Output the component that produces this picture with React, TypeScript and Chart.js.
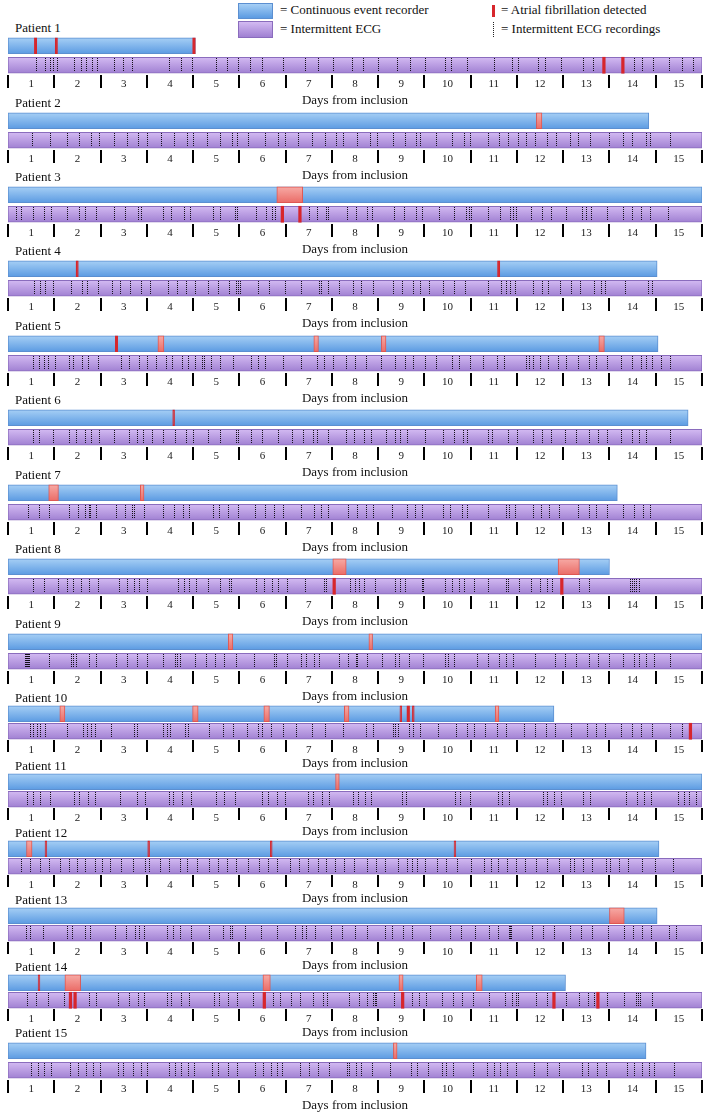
import { useEffect, useRef } from 'react';
import { Chart, registerables } from 'chart.js';

Chart.register(...registerables);

const SERIF = "'Liberation Serif', 'Times New Roman', Times, serif";

// ---------------- data ----------------
const dayLabels = ['1', '2', '3', '4', '5', '6', '7', '8', '9', '10', '11', '12', '13', '14', '15'];
const rowLabels = ['CER', 'ECG'];

const patientNames = [
  'Patient 1', 'Patient 2', 'Patient 3', 'Patient 4', 'Patient 5', 'Patient 6', 'Patient 7', 'Patient 8',
  'Patient 9', 'Patient 10', 'Patient 11', 'Patient 12', 'Patient 13', 'Patient 14', 'Patient 15',
];

// days of continuous event recorder use
const cerEndDays = [4.05, 13.85, 15, 14.03, 14.05, 14.7, 13.17, 13.0, 15, 11.8, 15, 14.07, 14.03, 12.05, 13.79];
// days of intermittent ECG period
const ecgEndDays = [15, 15, 15, 15, 15, 15, 15, 15, 15, 15, 15, 15, 15, 15, 15];

// AF episodes detected by the continuous event recorder [start, end] (days)
const cerAfEpisodes = [
  [[0.57, 0.62], [1.02, 1.07], [3.99, 4.05]],
  [[11.42, 11.54]],
  [[5.81, 6.37]],
  [[1.47, 1.52], [10.58, 10.63]],
  [[2.32, 2.37], [3.24, 3.37], [6.61, 6.71], [8.07, 8.17], [12.77, 12.89]],
  [[3.56, 3.6]],
  [[0.88, 1.09], [2.86, 2.94]],
  [[7.02, 7.31], [11.89, 12.35]],
  [[4.76, 4.86], [7.8, 7.88]],
  [[1.12, 1.23], [3.99, 4.11], [5.53, 5.65], [7.27, 7.37], [8.47, 8.51], [8.62, 8.68], [8.74, 8.78], [10.53, 10.61]],
  [[7.08, 7.16]],
  [[0.4, 0.52], [0.8, 0.84], [3.02, 3.06], [5.67, 5.71], [9.64, 9.68]],
  [[13.0, 13.32]],
  [[0.65, 0.69], [1.23, 1.57], [5.51, 5.67], [8.45, 8.54], [10.12, 10.25]],
  [[8.33, 8.41]],
];

// AF detected on intermittent ECG (days)
const ecgAfDays = [
  [12.88, 13.29], [], [5.93, 6.31], [], [], [], [], [7.05, 11.97], [], [14.75], [], [], [],
  [1.35, 1.45, 5.54, 8.53, 11.8, 12.75], [],
];

// intermittent ECG recordings (days)
const rec1 = [0.6, 0.81, 0.91, 0.98, 1.06, 1.43, 1.58, 1.68, 1.81, 1.92, 2.3, 2.49, 2.69, 3.48, 3.74, 3.97, 4.49, 4.74, 4.97, 5.23, 5.49, 5.94, 6.41, 6.7, 7.02, 7.43, 7.67, 7.99, 8.4, 8.68, 9.01, 9.44, 9.57, 9.92, 10.5, 10.9, 11.02, 11.45, 11.6, 11.96, 12.43, 12.64, 13.54, 13.7, 13.94, 14.28, 14.56, 14.8];
const rec2 = [0.52, 0.91, 1.27, 1.53, 1.79, 1.97, 2.29, 2.57, 2.81, 3.0, 3.3, 3.58, 3.86, 4.0, 4.3, 4.58, 4.84, 4.95, 5.18, 5.55, 5.84, 5.99, 6.26, 6.57, 6.86, 7.09, 7.25, 7.55, 7.82, 7.98, 8.33, 8.59, 8.81, 8.91, 9.25, 9.59, 9.86, 9.98, 10.37, 10.61, 10.81, 11.03, 11.2, 11.39, 11.64, 11.85, 12.14, 12.32, 12.59, 13.0, 13.29, 13.49, 13.8, 13.88, 14.31];
const rec3 = [0.18, 0.29, 0.54, 0.78, 0.93, 1.27, 1.53, 1.67, 1.9, 2.29, 2.53, 2.82, 2.87, 3.34, 3.53, 3.8, 3.94, 4.43, 4.58, 4.9, 4.94, 5.36, 5.57, 5.71, 5.78, 6.51, 6.68, 6.87, 6.91, 7.32, 7.52, 7.75, 7.87, 8.34, 8.56, 8.81, 8.94, 9.32, 9.64, 9.89, 9.96, 10.01, 10.37, 10.64, 10.86, 10.91, 10.98, 11.3, 11.54, 11.73, 12.07, 12.41, 12.49, 12.61, 12.95, 13.29, 13.49, 13.68, 13.88, 14.27];
const rec4 = [0.56, 0.7, 0.8, 0.97, 1.36, 1.59, 1.7, 1.95, 2.24, 2.43, 2.63, 2.87, 3.07, 3.46, 3.65, 3.85, 4.04, 4.33, 4.53, 4.77, 4.92, 4.97, 5.02, 5.4, 5.65, 5.99, 6.33, 6.72, 6.77, 6.91, 7.16, 7.45, 7.64, 7.89, 8.33, 8.52, 8.76, 8.91, 9.11, 9.4, 9.64, 9.88, 10.37, 10.66, 10.76, 10.85, 10.95, 11.34, 11.54, 11.68, 11.93, 12.17, 12.37, 12.66, 12.81, 12.9, 13.34, 13.83, 13.92];
const rec5 = [0.54, 0.66, 0.78, 0.86, 1.02, 1.31, 1.41, 1.61, 1.73, 1.95, 2.45, 2.61, 2.84, 3.0, 3.19, 3.41, 3.55, 3.75, 3.9, 4.04, 4.19, 4.24, 4.38, 4.58, 4.87, 5.26, 5.4, 5.55, 5.94, 6.33, 6.67, 6.84, 7.03, 7.3, 7.5, 7.74, 8.06, 8.37, 8.57, 8.76, 9.01, 9.25, 9.59, 9.74, 9.98, 10.27, 10.57, 10.71, 11.2, 11.25, 11.34, 11.49, 11.68, 11.88, 12.07, 12.32, 12.56, 12.71, 12.95, 13.24, 13.49, 13.68, 13.78, 13.92, 14.12, 14.3];
const rec6 = [0.54, 0.66, 0.97, 1.31, 1.46, 1.66, 1.8, 1.97, 2.29, 2.61, 2.78, 2.92, 3.12, 3.36, 3.6, 3.85, 3.99, 4.33, 4.58, 4.92, 4.97, 5.26, 5.5, 5.84, 6.13, 6.38, 6.6, 6.67, 6.91, 7.3, 7.48, 7.69, 7.84, 8.18, 8.37, 8.47, 8.62, 9.01, 9.4, 9.64, 9.84, 9.93, 10.37, 10.47, 10.81, 11.0, 11.34, 11.54, 11.74, 12.03, 12.27, 12.56, 12.76, 12.95, 13.24, 13.49, 13.63, 13.78, 14.31];
const rec7 = [0.44, 0.68, 0.88, 1.31, 1.51, 1.66, 1.75, 1.78, 1.9, 2.34, 2.53, 2.68, 2.73, 2.94, 3.36, 3.58, 3.78, 3.92, 4.43, 4.56, 4.75, 4.97, 5.34, 5.55, 5.74, 5.94, 6.33, 6.62, 6.77, 6.91, 7.35, 7.55, 7.74, 7.89, 8.3, 8.62, 8.79, 8.94, 9.4, 9.56, 9.82, 9.93, 10.37, 10.76, 10.83, 10.95, 11.34, 11.51, 11.7, 11.9, 12.32, 12.56, 12.71, 12.95, 13.29, 13.53, 13.73, 13.88];
const rec8 = [0.54, 0.78, 1.07, 1.27, 1.41, 1.58, 1.75, 1.95, 2.39, 2.58, 2.73, 2.84, 3.0, 3.68, 3.8, 3.92, 4.07, 4.33, 4.58, 4.77, 4.82, 5.36, 5.53, 5.7, 5.84, 6.02, 6.41, 6.82, 6.87, 7.4, 7.5, 7.59, 7.69, 7.94, 8.37, 8.47, 8.59, 8.94, 8.96, 8.98, 9.45, 9.59, 9.74, 9.85, 10.08, 10.37, 10.76, 10.81, 11.05, 11.3, 11.49, 11.64, 11.76, 12.34, 12.56, 13.44, 13.49, 13.53, 13.58, 13.63];
const rec9 = [0.36, 0.38, 0.4, 0.42, 0.44, 0.46, 0.88, 1.36, 1.41, 1.46, 1.75, 1.9, 2.34, 2.58, 2.78, 3.0, 3.36, 3.6, 3.65, 3.72, 4.04, 4.28, 4.48, 4.67, 4.92, 5.31, 5.74, 5.79, 6.04, 6.33, 6.45, 6.62, 6.72, 7.16, 7.35, 7.52, 7.55, 7.77, 8.08, 8.37, 8.45, 8.67, 8.96, 9.45, 9.5, 9.64, 10.13, 10.37, 10.61, 10.76, 10.91, 11.39, 11.83, 12.03, 12.27, 12.56, 12.76, 13.0, 13.29, 13.53, 13.63, 13.78, 13.97, 14.31];
const rec10 = [0.48, 0.55, 0.62, 0.69, 0.8, 1.27, 1.63, 1.71, 1.79, 1.88, 2.22, 2.72, 2.79, 3.35, 3.43, 3.5, 3.82, 3.89, 4.35, 4.64, 4.87, 5.16, 5.4, 5.48, 5.69, 5.94, 6.23, 6.57, 6.86, 7.25, 7.74, 7.89, 8.32, 8.37, 8.42, 8.66, 8.76, 8.91, 9.3, 9.69, 9.93, 10.08, 10.32, 10.56, 10.76, 11.15, 11.39, 11.63, 11.83, 12.17, 12.51, 12.71, 12.9, 13.24, 13.48, 13.68, 13.92, 14.31, 14.56];
const rec11 = [0.41, 0.53, 0.7, 0.9, 1.43, 1.53, 1.72, 1.87, 2.42, 2.79, 2.97, 3.49, 3.57, 3.75, 3.96, 4.5, 4.66, 4.91, 5.5, 5.62, 5.81, 5.99, 6.49, 6.59, 6.78, 6.93, 7.46, 7.56, 7.71, 7.85, 8.52, 8.61, 9.66, 9.76, 9.98, 10.59, 10.68, 10.83, 11.56, 11.66, 11.8, 11.95, 12.43, 12.58, 13.36, 13.6, 13.75, 13.89, 14.48, 14.62, 14.72, 14.87];
const rec12 = [0.28, 0.48, 0.7, 0.89, 1.12, 1.31, 1.5, 1.67, 1.87, 2.03, 2.21, 2.45, 2.7, 2.97, 3.04, 3.28, 3.47, 3.72, 3.86, 4.08, 4.35, 4.53, 4.74, 4.93, 5.18, 5.42, 5.62, 5.81, 6.1, 6.3, 6.49, 6.69, 6.88, 7.06, 7.27, 7.47, 7.76, 7.95, 8.15, 8.44, 8.63, 8.73, 8.83, 9.02, 9.27, 9.46, 9.71, 10.0, 10.29, 10.44, 10.58, 10.78, 10.97, 11.17, 11.41, 11.66, 11.9, 12.14, 12.24, 12.43, 12.63, 12.92, 13.02, 13.21, 13.41, 13.7, 13.99, 14.38];
const rec13 = [0.38, 0.48, 0.75, 1.28, 1.38, 1.67, 1.77, 2.31, 2.55, 2.75, 2.84, 2.94, 3.43, 3.57, 3.72, 3.96, 4.35, 4.64, 4.79, 4.84, 5.13, 5.47, 5.81, 6.2, 6.35, 6.44, 6.64, 6.98, 7.22, 7.51, 7.76, 8.15, 8.29, 8.54, 8.73, 9.12, 9.56, 9.8, 10.1, 10.39, 10.58, 10.83, 10.86, 10.88, 11.32, 11.56, 11.8, 12.14, 12.39, 12.63, 12.97, 13.31, 13.51, 13.7, 13.9, 14.29, 14.43];
const rec14 = [0.42, 0.61, 0.86, 1.2, 1.76, 1.9, 2.37, 2.61, 2.8, 2.95, 3.44, 3.53, 3.73, 3.92, 4.46, 4.56, 4.75, 4.95, 5.29, 5.73, 5.87, 6.12, 6.31, 6.6, 6.8, 6.89, 7.38, 7.58, 7.77, 7.89, 7.93, 7.96, 8.35, 8.74, 8.89, 9.04, 9.38, 9.62, 9.81, 10.06, 10.4, 10.74, 10.89, 10.98, 11.03, 11.42, 11.66, 12.05, 12.35, 12.54, 12.66, 12.94, 13.32, 13.57, 13.62, 13.66, 13.91];
const rec15 = [0.49, 0.64, 0.78, 0.93, 1.34, 1.52, 1.68, 1.83, 1.98, 2.37, 2.49, 2.71, 2.88, 3.0, 3.47, 3.6, 3.73, 3.88, 4.02, 4.41, 4.54, 4.75, 4.95, 5.34, 5.51, 5.68, 5.82, 5.92, 6.31, 6.5, 6.7, 6.94, 7.33, 7.38, 7.53, 7.62, 7.87, 8.26, 8.7, 8.84, 9.08, 9.38, 9.47, 9.62, 10.06, 10.36, 10.5, 10.64, 10.79, 10.98, 11.37, 11.66, 11.91, 12.4, 12.54, 12.74, 12.93, 13.37, 13.52, 13.71, 13.86, 13.96, 14.39];
const recordingDays = [rec1, rec2, rec3, rec4, rec5, rec6, rec7, rec8, rec9, rec10, rec11, rec12, rec13, rec14, rec15];

// ---------------- layout (page pixels) ----------------
const labelCenters = [28, 103, 177, 251, 326, 400, 475, 549, 624, 698, 766, 833, 900, 967, 1033];
const compactPanels = [false, false, false, false, false, false, false, false, false, true, true, true, true, true, false];

function geometry(i: number) {
  const L = labelCenters[i];
  if (compactPanels[i]) {
    // plot area 35px (two rows of 17.5), axis 31px
    return { L, top: L + 4, h: 69, padTop: 3, axisH: 31, tickLen: 12, tickPad: -8, titlePadTop: 0 };
  }
  // plot area 39px (two rows of 19.5), axis 33px
  return { L, top: L + 4, h: 76, padTop: 4, axisH: 33, tickLen: 13, tickPad: -10, titlePadTop: 0 };
}

// ---------------- styles ----------------
const BLUE_TOP = '#a6cff5';
const BLUE_BOT = '#5c9be2';
const BLUE_BORDER = '#5b8fd1';
const PURPLE_TOP = '#d3baf2';
const PURPLE_BOT = '#a080d2';
const PURPLE_BORDER = '#8a6cbd';
const RED = '#d7262c';
const PINK_TOP = '#f7aaa5';
const PINK_BOT = '#ea6c67';
const PINK_BORDER = '#de5752';

function rowGradient(row: number, top: string, bottom: string) {
  return (c: any) => {
    const chart = c.chart;
    const ys = chart.scales && chart.scales.y;
    if (!ys || !chart.chartArea) return top;
    const mid = ys.getPixelForValue(row);
    const g = chart.ctx.createLinearGradient(0, mid - 8, 0, mid + 8);
    g.addColorStop(0, top);
    g.addColorStop(1, bottom);
    return g;
  };
}

const recordingsPlugin = {
  id: 'recordings',
  afterDatasetDraw(chart: any, args: any, opts: any) {
    const ds = chart.data.datasets[args.index];
    if (!ds || ds.label !== 'Intermittent ECG') return;
    const xs = chart.scales.x;
    const ys = chart.scales.y;
    const mid = ys.getPixelForValue(1);
    const ctx = chart.ctx;
    ctx.save();
    ctx.strokeStyle = '#141018';
    ctx.lineWidth = 1;
    ctx.setLineDash([1, 1]);
    ctx.beginPath();
    for (const t of opts.days as number[]) {
      const x = Math.round(xs.getPixelForValue(t)) + 0.5;
      ctx.moveTo(x, Math.round(mid) - 7);
      ctx.lineTo(x, Math.round(mid) + 7);
    }
    ctx.stroke();
    ctx.restore();
  },
};

function buildConfig(i: number, g: ReturnType<typeof geometry>): any {
  const episodes = cerAfEpisodes[i];
  return {
    type: 'bar',
    data: {
      labels: rowLabels,
      datasets: [
        {
          label: 'AF on intermittent ECG',
          data: ecgAfDays[i].map((t) => ({ x: [t - 0.028, t + 0.028], y: 'ECG' })),
          backgroundColor: RED,
          borderWidth: 0,
          barThickness: 16,
          grouped: false,
          order: 0,
        },
        {
          label: 'AF on event recorder',
          data: episodes.map(([a, b]) => ({ x: [a, b], y: 'CER' })),
          backgroundColor: (c: any) => {
            const r = c.raw;
            if (r && r.x[1] - r.x[0] < 0.07) return RED;
            return rowGradient(0, PINK_TOP, PINK_BOT)(c);
          },
          borderColor: (c: any) => {
            const r = c.raw;
            if (r && r.x[1] - r.x[0] < 0.07) return RED;
            return PINK_BORDER;
          },
          borderWidth: 1,
          borderSkipped: false,
          barThickness: 16,
          grouped: false,
          order: 0,
        },
        {
          label: 'Intermittent ECG',
          data: [{ x: [0, ecgEndDays[i]], y: 'ECG' }],
          backgroundColor: rowGradient(1, PURPLE_TOP, PURPLE_BOT),
          borderColor: PURPLE_BORDER,
          borderWidth: 1,
          borderSkipped: false,
          barThickness: 16,
          grouped: false,
          order: 1,
        },
        {
          label: 'Continuous event recorder',
          data: [{ x: [0, cerEndDays[i]], y: 'CER' }],
          backgroundColor: rowGradient(0, BLUE_TOP, BLUE_BOT),
          borderColor: BLUE_BORDER,
          borderWidth: 1,
          borderSkipped: false,
          barThickness: 16,
          grouped: false,
          order: 1,
        },
      ],
    },
    options: {
      indexAxis: 'y',
      responsive: false,
      animation: false,
      devicePixelRatio: 1,
      events: [],
      layout: { padding: { left: 8, right: 7, top: g.padTop, bottom: 0 } },
      plugins: {
        legend: { display: false },
        tooltip: { enabled: false },
        recordings: { days: recordingDays[i] },
      },
      scales: {
        x: { type: 'linear', min: 0, max: 15, display: false },
        y: { type: 'category', labels: rowLabels, display: false, offset: true },
        days: {
          type: 'category',
          axis: 'x',
          position: 'bottom',
          labels: dayLabels,
          offset: true,
          afterFit: (scale: any) => {
            scale.height = g.axisH;
          },
          grid: {
            offset: true,
            drawOnChartArea: false,
            drawTicks: true,
            tickLength: g.tickLen,
            color: '#000',
            lineWidth: 2,
          },
          border: { display: false },
          ticks: {
            padding: g.tickPad,
            autoSkip: false,
            maxRotation: 0,
            color: '#1a1a1a',
            font: { family: SERIF, size: 11 },
          },
          title: {
            display: true,
            text: 'Days from inclusion',
            color: '#111',
            font: { family: SERIF, size: 13 },
            padding: { top: g.titlePadTop, bottom: 0 },
          },
        },
      },
    },
    plugins: [recordingsPlugin],
  };
}

function Panel({ i }: { i: number }) {
  const ref = useRef<HTMLCanvasElement | null>(null);
  const g = geometry(i);
  useEffect(() => {
    if (!ref.current) return;
    const chart = new Chart(ref.current, buildConfig(i, g));
    return () => chart.destroy();
  }, [i]);
  return (
    <>
      <div
        style={{
          position: 'absolute',
          left: 15,
          top: g.L - 8,
          font: `13px ${SERIF}`,
          lineHeight: '16px',
          color: '#111',
          whiteSpace: 'nowrap',
        }}
      >
        {patientNames[i]}
      </div>
      <canvas
        ref={ref}
        width={709}
        height={g.h}
        style={{ position: 'absolute', left: 0, top: g.top, width: 709, height: g.h, display: 'block' }}
      />
    </>
  );
}

const legendText: any = {
  position: 'absolute',
  font: `13px ${SERIF}`,
  lineHeight: '16px',
  color: '#111',
  whiteSpace: 'nowrap',
};

function Legend() {
  return (
    <>
      <div
        style={{
          position: 'absolute', left: 238, top: 3, width: 33, height: 14,
          background: `linear-gradient(${BLUE_TOP}, ${BLUE_BOT})`, border: `1px solid ${BLUE_BORDER}`,
        }}
      />
      <div style={{ ...legendText, left: 280, top: 2 }}>= Continuous event recorder</div>
      <div
        style={{
          position: 'absolute', left: 238, top: 21, width: 33, height: 15,
          background: `linear-gradient(${PURPLE_TOP}, ${PURPLE_BOT})`, border: `1px solid ${PURPLE_BORDER}`,
        }}
      />
      <div style={{ ...legendText, left: 280, top: 21 }}>= Intermittent ECG</div>
      <div style={{ position: 'absolute', left: 492, top: 5, width: 3, height: 12, background: RED }} />
      <div style={{ ...legendText, left: 501, top: 2 }}>= Atrial fibrillation detected</div>
      <div style={{ position: 'absolute', left: 493, top: 22, width: 0, height: 15, borderLeft: '1px dotted #222' }} />
      <div style={{ ...legendText, left: 501, top: 21 }}>= Intermittent ECG recordings</div>
    </>
  );
}

export default function App() {
  return (
    <div style={{ position: 'absolute', left: 0, top: 0, width: 709, height: 1113, background: '#fff' }}>
      <Legend />
      {patientNames.map((_, i) => (
        <Panel key={i} i={i} />
      ))}
    </div>
  );
}
